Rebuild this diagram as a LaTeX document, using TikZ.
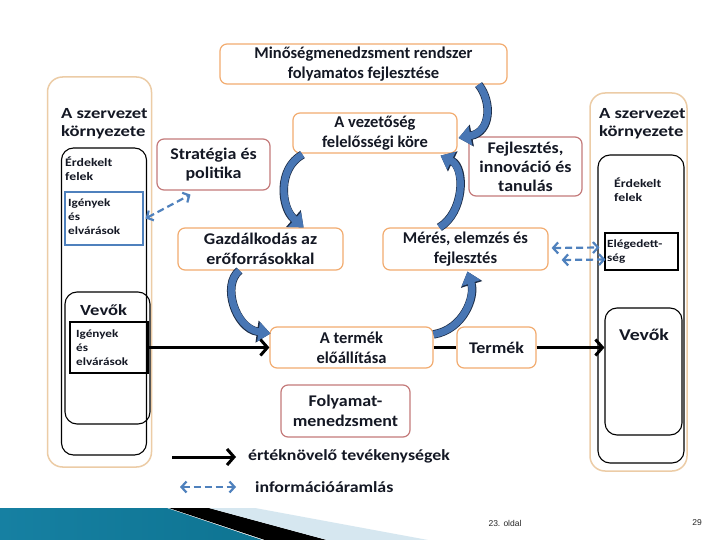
\documentclass[tikz,border=0pt]{standalone}
\usepackage{fontspec}
\setmainfont{Carlito}
\newfontfamily\wideA[FakeStretch=1.2]{Carlito}
\newfontfamily\wideB[FakeStretch=1.15]{Carlito}
\newfontfamily\wideC[FakeStretch=1.1]{Carlito}
\newfontfamily\footfont{Liberation Sans}
\usetikzlibrary{arrows.meta,calc}
\definecolor{orB}{RGB}{242,172,112}
\definecolor{tanB}{RGB}{236,204,166}
\definecolor{redB}{RGB}{196,122,122}
\definecolor{infB}{RGB}{79,129,189}
\definecolor{cB}{RGB}{72,118,180}
\definecolor{cD}{RGB}{28,44,70}
\definecolor{txt}{RGB}{20,24,36}
\definecolor{tealA}{RGB}{22,128,162}
\definecolor{tealB}{RGB}{78,182,212}
\definecolor{tealC}{RGB}{14,116,146}
\definecolor{lightW}{RGB}{214,231,240}
\tikzset{
  obox/.style={draw=orB, line width=1.2pt, rounded corners=7pt, fill=white, align=center,
    inner sep=0pt, text=txt, font=\bfseries\fontsize{16.5}{20}\selectfont},
  wbox/.style={obox, font=\wideC\bfseries\fontsize{16.3}{19.5}\selectfont},
  rbox/.style={wbox, draw=redB},
  envbox/.style={draw=tanB, line width=1.5pt, rounded corners=15pt, inner sep=0pt},
  inbox/.style={draw=black, line width=1.1pt, rounded corners=12pt, inner sep=0pt},
  sqbox/.style={draw=black, line width=1.1pt, inner sep=0pt},
  titletxt/.style={anchor=west, align=left, inner sep=0pt, text=txt, font=\wideA\bfseries\fontsize{15.5}{18}\selectfont},
  erdtxt/.style={anchor=west, align=left, inner sep=0pt, text=txt, font=\wideA\bfseries\fontsize{11.5}{13.5}\selectfont},
  smalltxt/.style={anchor=west, align=left, inner sep=0pt, text=txt, font=\wideA\bfseries\fontsize{11}{14}\selectfont},
  vevtxt/.style={inner sep=0pt, text=txt, font=\wideA\bfseries\fontsize{15.5}{20}\selectfont},
  legtxt/.style={anchor=west, inner sep=0pt, text=txt, font=\wideB\bfseries\fontsize{15.5}{20}\selectfont},
  blk/.style={line width=3pt, -{Straight Barb[length=7pt,width=16pt]}},
  blkline/.style={line width=3pt},
  info/.style={draw=infB, line width=2.2pt, dash pattern=on 7pt off 4pt,
    {Straight Barb[length=5pt,width=11pt]}-{Straight Barb[length=5pt,width=11pt]}},
  curv/.style={line width=7pt, draw=cB, -{Triangle[width=19pt,length=12pt]},
    preaction={draw=cD, line width=8.5pt, -{Triangle[width=21.5pt,length=13.5pt]}}},
}
\begin{document}
\begin{tikzpicture}[x=1pt,y=-1pt]
\useasboundingbox (0,0) rectangle (720,540);
\fill[white] (0,0) rectangle (720,540);

% ---------- left environment ----------
\node[envbox, minimum width=104pt, minimum height=390pt] (louter) at (99.5,272) {};
\node[inbox, minimum width=85pt, minimum height=307pt] (linner) at (104,301.5) {};
\node[titletxt] (ltitle) at (61,124) {A szervezet\\környezete};
\node[erdtxt] (lerd) at (65,168.5) {Érdekelt\\felek};
\node[draw=infB, line width=1.1pt, inner sep=0pt, minimum width=78pt, minimum height=53pt] (ligeny) at (104,218.5) {};
\node[smalltxt] (ligenyt) at (68,217) {Igények\\és\\elvárások};
\node[inbox, minimum width=85pt, minimum height=132pt] (lvevok) at (107.5,358) {};
\node[vevtxt, anchor=west] (lvevokt) at (80,310) {Vevők};
\node[sqbox, minimum width=78pt, minimum height=51pt] (lvigeny) at (109,347.5) {};
\node[smalltxt] (lvigenyt) at (76,347.5) {Igények\\és\\elvárások};

% ---------- right environment ----------
\node[envbox, minimum width=97pt, minimum height=378pt] (router) at (638.5,282) {};
\node[inbox, minimum width=86pt, minimum height=308pt] (rinner) at (641,309) {};
\node[titletxt] (rtitle) at (599,124) {A szervezet\\környezete};
\node[erdtxt] (rerd) at (614,189.5) {Érdekelt\\felek};
\node[sqbox, minimum width=73pt, minimum height=37pt] (relev) at (641.5,251.5) {};
\node[smalltxt] (relevt) at (607,252) {Elégedett-\\ség};
\node[inbox, minimum width=77pt, minimum height=127pt] (rvevok) at (643.5,371.5) {};
\node[vevtxt, font=\wideA\bfseries\fontsize{16.5}{20}\selectfont] (rvevokt) at (644,335) {Vevők};

% ---------- central boxes ----------
\node[obox, minimum width=287pt, minimum height=40pt] (top) at (363.5,64) {Minőségmenedzsment rendszer\\folyamatos fejlesztése};
\node[obox, minimum width=164pt, minimum height=40pt] (vez) at (375,133) {A vezetőség\\felelősségi köre};
\node[rbox, minimum width=113pt, minimum height=51pt] (strat) at (213.5,164.5) {Stratégia és\\politika};
\node[rbox, minimum width=113pt, minimum height=59pt, font=\wideC\bfseries\fontsize{16.3}{19}\selectfont] (fejl) at (525.5,166.5) {Fejlesztés,\\innováció és\\tanulás};
\node[wbox, minimum width=165pt, minimum height=42pt] (gazd) at (260.5,249) {Gazdálkodás az\\erőforrásokkal};
\node[obox, minimum width=165pt, minimum height=42pt] (meres) at (465.5,249) {Mérés, elemzés és\\fejlesztés};
\node[obox, minimum width=163pt, minimum height=41pt] (termek) at (351.5,347.5) {A termék\\előállítása};
\node[wbox, minimum width=79pt, minimum height=41pt] (termek2) at (496.5,347.5) {Termék};
\node[rbox, minimum width=129pt, minimum height=52pt] (folyam) at (345.5,411) {Folyamat-\\menedzsment};

% ---------- curved block arrows ----------
\draw[curv] ($(top.south east)+(-29,0)$) .. controls +(14,18) and +(32,-6) .. ($(vez.east)+(1,5)$);
\draw[curv] ($(vez.south west)+(10,1)$) .. controls +(-25,14) and +(-23,-20) .. ($(gazd.north east)+(-40,0)$);
\draw[curv] ($(gazd.south west)+(62,0)$) .. controls +(-18,14) and +(-35,-5) .. ($(termek.west)+(1,-14)$);
\draw[curv] ($(meres.north west)+(57,0)$) .. controls +(25,-15) and +(25,12) .. ($(vez.south east)+(-17,2)$);
\draw[curv] ($(termek.north east)+(0,8)$) .. controls +(30,-5) and +(8,25) .. ($(meres.south)+(2,1)$);

% ---------- black value flow ----------
\draw[blk] (lvigeny.east) -- (termek.west);
\draw[blkline] (termek.east) -- (termek2.west);
\draw[blk] (termek2.east) -- (termek2.east -| rvevok.west);

% ---------- information flow ----------
\draw[info] ($(ligeny.east)+(2,0)$) -- ($(strat.south)+(-23,4)$);
\draw[info] ($(meres.east)+(3,-1)$) -- ($(relev.west)+(-5,-4)$);
\draw[info] ($(meres.east)+(13,11)$) -- ($(relev.west)+(1,8)$);

% ---------- legend ----------
\node[legtxt] (lg1) at (248,456) {értéknövelő tevékenységek};
\node[legtxt] (lg2) at (255,487) {információáramlás};
\coordinate (lg1s) at (172,457);
\coordinate (lg2s) at (180,487);
\draw[blk] (lg1s) -- ($(lg1.west)+(-12,1)$);
\draw[info] (lg2s) -- ($(lg2.west)+(-19,0)$);

% ---------- footer decoration ----------
\shade[left color=tealA, middle color=tealB, right color=tealC] (0,508) -- (167,508) -- (262,540) -- (0,540) -- cycle;
\fill[black] (169,508) -- (209,508) -- (327,540) -- (265,540) -- cycle;
\fill[lightW] (209,508) -- (255,508) -- (428,540) -- (327,540) -- cycle;
\node[inner sep=0pt, text=black!85, font=\footfont\fontsize{8.5}{10}\selectfont] (pg) at (505,523) {23. oldal};
\node[inner sep=0pt, text=black!85, font=\footfont\fontsize{8.5}{10}\selectfont] (pnum) at (697,523) {29};
\end{tikzpicture}
\end{document}
